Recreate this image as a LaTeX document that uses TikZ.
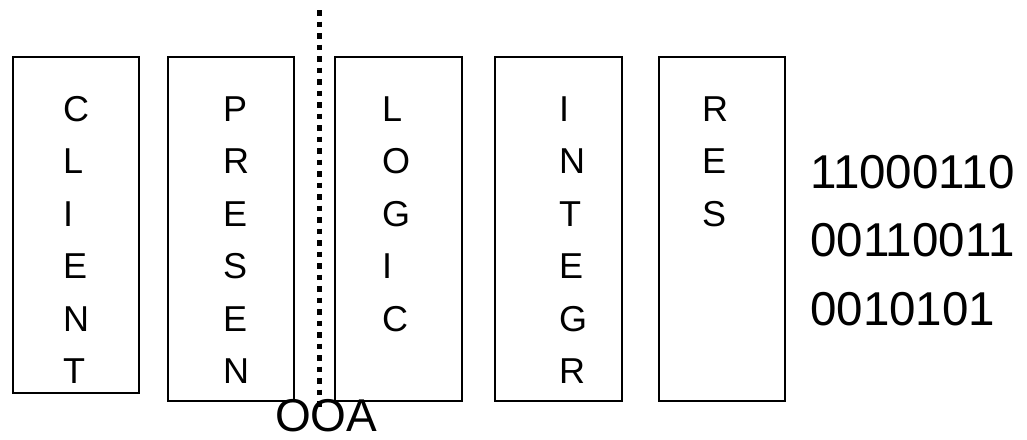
\documentclass[tikz,border=0pt]{standalone}
\usepackage{fontspec}
\setmainfont{Liberation Sans}
\begin{document}
\begin{tikzpicture}[x=1pt,y=-1pt,
  layer/.style={draw=black,line width=2pt,inner sep=0pt,minimum width=126pt},
  letter/.style={font=\fontsize{36}{36}\selectfont,inner sep=0pt,anchor=base west},
  bigtext/.style={font=\fontsize{46}{46}\selectfont,inner sep=0pt,text depth=0pt,anchor=base west},
  bintext/.style={font=\fontsize{47.5}{47.5}\selectfont,inner sep=0pt,anchor=base west},
  boundary/.style={line width=5.5pt,dash pattern=on 5.5pt off 6pt}]
\useasboundingbox (0,0) rectangle (1027,439);

% tier boxes
\node[layer,minimum height=336pt] (client) at (76,225) {};
\node[layer,minimum height=344pt] (presen) at (231,229) {};
\node[layer,minimum height=344pt,minimum width=127pt] (logic) at (398.5,229) {};
\node[layer,minimum height=344pt,minimum width=127pt] (integr) at (558.5,229) {};
\node[layer,minimum height=344pt] (res) at (722,229) {};

% vertical captions, one letter per line
\foreach \ch [count=\i] in {C,L,I,E,N,T}
  \node[letter] (client-\i) at (63,{121+52.5*(\i-1)}) {\ch};
\foreach \ch [count=\i] in {P,R,E,S,E,N}
  \node[letter] (presen-\i) at (223,{121+52.5*(\i-1)}) {\ch};
\foreach \ch [count=\i] in {L,O,G,I,C}
  \node[letter] (logic-\i) at (382,{121+52.5*(\i-1)}) {\ch};
\foreach \ch [count=\i] in {I,N,T,E,G,R}
  \node[letter] (integr-\i) at (559,{121+52.5*(\i-1)}) {\ch};
\foreach \ch [count=\i] in {R,E,S}
  \node[letter] (res-\i) at (702,{121+52.5*(\i-1)}) {\ch};

% dotted boundary between presentation and logic
\coordinate (bnd-top) at (319.5,10);
\coordinate (bnd-bot) at (319.5,410);
\draw[boundary] (bnd-top) -- (bnd-bot);

\node[bigtext] (ooa) at (275,431) {OOA};

% binary data
\node[bintext] (bin1) at (810,188) {11000110};
\node[bintext] (bin2) at (810,256.5) {00110011};
\node[bintext] (bin3) at (810,325) {0010101};
\end{tikzpicture}
\end{document}
